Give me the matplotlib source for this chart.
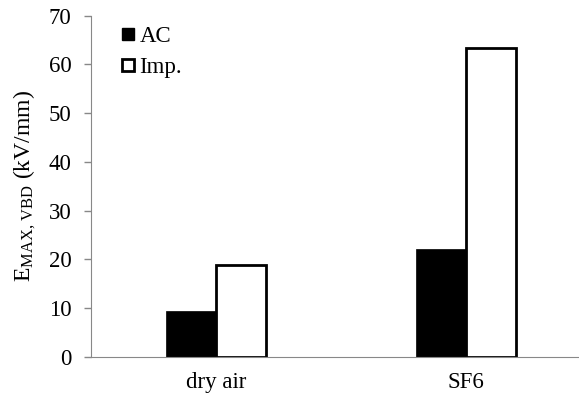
import matplotlib
matplotlib.use('Agg')
import matplotlib.pyplot as plt
from matplotlib.lines import Line2D
import numpy as np

categories = ['dry air', 'SF6']
ac_values = [9.4, 22.2]
imp_values = [18.9, 63.3]
y_ticks = [0, 10, 20, 30, 40, 50, 60, 70]

plt.rcParams['font.family'] = 'Liberation Serif'
plt.rcParams['mathtext.fontset'] = 'custom'
plt.rcParams['mathtext.rm'] = 'Liberation Serif'
plt.rcParams['mathtext.it'] = 'Liberation Serif:italic'

fig = plt.figure(figsize=(5.79, 4.05), dpi=100)
ax = fig.add_axes([91/579, 48.3/405, 500/579, 341/405])

x = np.arange(len(categories))
w = 0.2
ax.bar(x - w/2, ac_values, w, color='black', edgecolor='black', linewidth=0.5)
ax.bar(x + w/2, imp_values, w, color='white', edgecolor='black', linewidth=2)

ax.set_xlim(-0.5, 1.5)
ax.set_ylim(0, 70)
ax.set_yticks(y_ticks)
ax.set_xticks(x)
ax.set_xticklabels(categories, fontsize=16.5)
ax.tick_params(axis='y', labelsize=16.5, color='#888888', length=5, width=1, pad=9)
ax.tick_params(axis='x', length=0, pad=11)
for s in ['top', 'right']:
    ax.spines[s].set_visible(False)
for s in ['left', 'bottom']:
    ax.spines[s].set_color('#888888')
    ax.spines[s].set_zorder(3)

ax.set_ylabel(r'E$_{\mathrm{MAX,\,VBD}}$ (kV/mm)', fontsize=17, labelpad=8)

handles = [Line2D([], [], marker='s', linestyle='none', markerfacecolor='black',
                  markeredgecolor='black', markersize=8),
           Line2D([], [], marker='s', linestyle='none', markerfacecolor='white',
                  markeredgecolor='black', markeredgewidth=2, markersize=8)]
ax.legend(handles, ['AC', 'Imp.'], loc='upper left', bbox_to_anchor=(0.01, 1.03),
          frameon=False, fontsize=16.5, handletextpad=0.0, labelspacing=0.45,
          handlelength=1.0)

fig.savefig('out.png', dpi=100)
